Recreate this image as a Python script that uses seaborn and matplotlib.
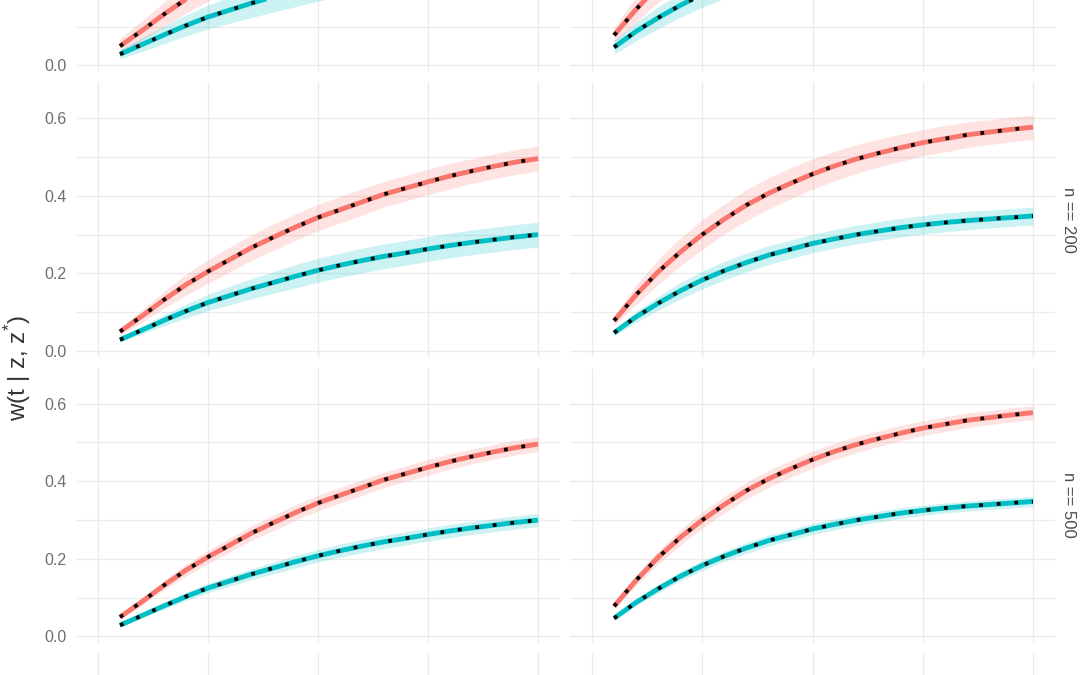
import numpy as np
import pandas as pd
import matplotlib
matplotlib.use("Agg")
import matplotlib.pyplot as plt
import seaborn as sns

# ---------------- data ----------------
t = list(range(1, 21))

red_left = [0.050, 0.090, 0.132, 0.171, 0.205, 0.236, 0.267, 0.294, 0.320, 0.344,
            0.364, 0.384, 0.404, 0.420, 0.436, 0.451, 0.464, 0.476, 0.487, 0.496]
cyan_left = [0.029, 0.054, 0.079, 0.103, 0.125, 0.143, 0.161, 0.177, 0.193, 0.208,
             0.221, 0.233, 0.244, 0.253, 0.263, 0.272, 0.280, 0.287, 0.294, 0.300]
red_right = [0.078, 0.145, 0.204, 0.255, 0.300, 0.340, 0.376, 0.406, 0.432, 0.456,
             0.477, 0.495, 0.510, 0.524, 0.537, 0.547, 0.557, 0.564, 0.571, 0.577]
cyan_right = [0.047, 0.088, 0.123, 0.155, 0.183, 0.207, 0.228, 0.247, 0.262, 0.277,
              0.289, 0.300, 0.309, 0.318, 0.325, 0.331, 0.336, 0.340, 0.344, 0.348]

# ribbon half-widths per sample size
hw100_red_left = [0.020, 0.026, 0.031, 0.036, 0.040, 0.044, 0.047, 0.049, 0.051, 0.052,
                  0.053, 0.054, 0.054, 0.054, 0.054, 0.054, 0.053, 0.053, 0.052, 0.052]
hw100_cyan_left = [0.012, 0.018, 0.023, 0.027, 0.031, 0.034, 0.037, 0.039, 0.041, 0.042,
                   0.043, 0.044, 0.044, 0.045, 0.045, 0.045, 0.045, 0.045, 0.045, 0.045]
hw100_red_right = [0.020, 0.032, 0.042, 0.048, 0.052, 0.054, 0.055, 0.055, 0.055, 0.054,
                   0.053, 0.052, 0.051, 0.050, 0.049, 0.048, 0.047, 0.046, 0.045, 0.045]
hw100_cyan_right = [0.018, 0.024, 0.028, 0.031, 0.033, 0.034, 0.035, 0.035, 0.035, 0.035,
                    0.035, 0.035, 0.035, 0.035, 0.035, 0.035, 0.035, 0.034, 0.034, 0.034]

hw200_red_left = [0.008, 0.016, 0.022, 0.027, 0.030, 0.032, 0.033, 0.034, 0.034, 0.034,
                  0.034, 0.034, 0.033, 0.033, 0.033, 0.033, 0.032, 0.032, 0.032, 0.032]
hw200_cyan_left = [0.006, 0.010, 0.014, 0.018, 0.021, 0.024, 0.026, 0.028, 0.030, 0.031,
                   0.031, 0.032, 0.032, 0.032, 0.032, 0.032, 0.032, 0.032, 0.032, 0.032]
hw200_red_right = [0.012, 0.025, 0.032, 0.036, 0.038, 0.039, 0.040, 0.040, 0.040, 0.039,
                   0.038, 0.037, 0.036, 0.035, 0.034, 0.034, 0.033, 0.032, 0.032, 0.031]
hw200_cyan_right = [0.008, 0.014, 0.018, 0.021, 0.023, 0.024, 0.024, 0.024, 0.024, 0.024,
                    0.024, 0.024, 0.024, 0.024, 0.024, 0.024, 0.024, 0.023, 0.023, 0.023]

hw500_red_left = [0.005, 0.009, 0.012, 0.015, 0.017, 0.018, 0.019, 0.020, 0.020, 0.020,
                  0.020, 0.020, 0.020, 0.020, 0.020, 0.020, 0.019, 0.019, 0.019, 0.019]
hw500_cyan_left = [0.004, 0.006, 0.008, 0.010, 0.012, 0.013, 0.014, 0.015, 0.016, 0.016,
                   0.017, 0.017, 0.017, 0.017, 0.017, 0.017, 0.017, 0.017, 0.017, 0.017]
hw500_red_right = [0.007, 0.013, 0.017, 0.020, 0.021, 0.022, 0.022, 0.022, 0.022, 0.022,
                   0.021, 0.021, 0.020, 0.020, 0.019, 0.019, 0.019, 0.018, 0.018, 0.018]
hw500_cyan_right = [0.005, 0.008, 0.010, 0.012, 0.013, 0.013, 0.014, 0.014, 0.014, 0.014,
                    0.014, 0.014, 0.014, 0.014, 0.013, 0.013, 0.013, 0.013, 0.013, 0.013]

row_labels = ["n == 100", "n == 200", "n == 500", "n == 1000"]
y_ticks = [0.0, 0.2, 0.4, 0.6]
y_tick_labels = ["0.0", "0.2", "0.4", "0.6"]
x_ticks = [0, 5, 10, 15, 20]

RED = "#F8766D"
CYAN = "#00BFC4"

means = {"left": (red_left, cyan_left), "right": (red_right, cyan_right)}
halfw = {
    0: {"left": (hw100_red_left, hw100_cyan_left), "right": (hw100_red_right, hw100_cyan_right)},
    1: {"left": (hw200_red_left, hw200_cyan_left), "right": (hw200_red_right, hw200_cyan_right)},
    2: {"left": (hw500_red_left, hw500_cyan_left), "right": (hw500_red_right, hw500_cyan_right)},
}

# ---------------- style ----------------
sns.set_theme(style="white")
plt.rcParams["font.family"] = ["Liberation Sans", "DejaVu Sans"]
plt.rcParams["mathtext.fontset"] = "custom"
plt.rcParams["mathtext.rm"] = "Liberation Sans"

W, H = 1080, 675
fig = plt.figure(figsize=(W / 100, H / 100), dpi=100)
fig.patch.set_facecolor("white")

col_x = {"left": (76, 484), "right": (570, 485)}
row_top = [82 - 285.5, 82, 367.5, 653]
ph = 275
GRID = "#EBEBEB"


def make_ax(col, r):
    x0, w = col_x[col]
    ax = fig.add_axes([x0 / W, 1 - (row_top[r] + ph) / H, w / W, ph / H])
    ax.set_xlim(-1, 21)
    ax.set_ylim(-0.0155, 0.6933)
    for s in ax.spines.values():
        s.set_visible(False)
    ax.set_xticks(x_ticks)
    ax.set_yticks(y_ticks)
    ax.set_yticks([0.1, 0.3, 0.5], minor=True)
    ax.grid(True, which="major", color=GRID, linewidth=1.0)
    ax.grid(True, which="minor", axis="y", color=GRID, linewidth=0.8)
    ax.set_axisbelow(True)
    ax.tick_params(axis="both", which="both", length=0)
    ax.set_xticklabels([])
    if col == "left" and r < 3:
        if r == 0:
            # only the 0.0 label of the top row lies inside the picture
            ax.set_yticklabels([y_tick_labels[0], "", "", ""])
        else:
            ax.set_yticklabels(y_tick_labels)
        ax.tick_params(axis="y", pad=6.5, labelsize=11.5, labelcolor="#6E6E6E")
    else:
        ax.set_yticklabels([])
    return ax


for r in range(4):
    for col in ["left", "right"]:
        ax = make_ax(col, r)
        if r == 3:
            continue
        rm, cm = means[col]
        rh, ch = halfw[r][col]
        for m, h, c in [(rm, rh, RED), (cm, ch, CYAN)]:
            m = np.array(m)
            h = np.array(h)
            ax.fill_between(t, m - h, m + h, color=c, alpha=0.2, linewidth=0, zorder=2)
            df = pd.DataFrame({"t": t, "w": m})
            sns.lineplot(data=df, x="t", y="w", color=c, linewidth=3.5,
                         errorbar=None, ax=ax, zorder=3, solid_capstyle="butt")
            sns.lineplot(data=df, x="t", y="w", color="black", linewidth=2.7,
                         linestyle=(0, (1, 3.7)), errorbar=None, ax=ax, zorder=4,
                         dash_capstyle="butt")
        ax.set_xlabel("")
        ax.set_ylabel("")
        if col == "right" and r in (1, 2):
            y_c = 1 - (row_top[r] + ph / 2) / H
            fig.text(1069 / W, y_c, row_labels[r], rotation=-90, ha="center",
                     va="center", fontsize=12, color="#4D4D4D")

fig.text(18 / W, 1 - 368 / H, r"w(t | z, z$^{*}$)", rotation=90, ha="center",
         va="center", fontsize=17.5, color="#333333")

fig.savefig("out.png", dpi=100, facecolor="white")
